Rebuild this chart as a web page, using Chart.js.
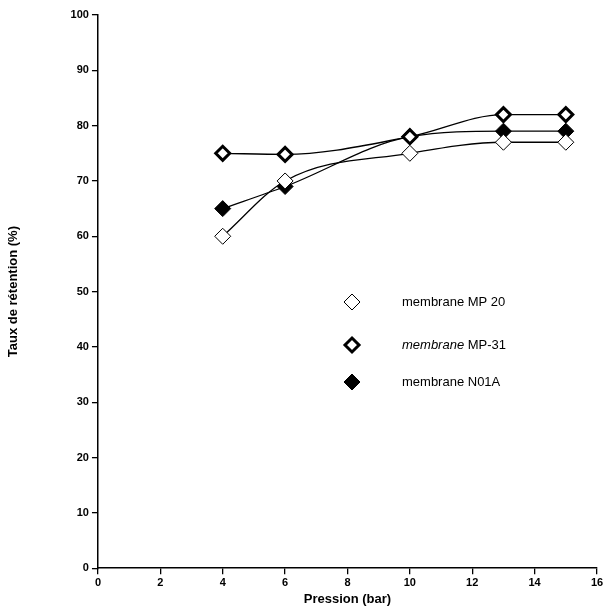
<!DOCTYPE html>
<html><head><meta charset="utf-8">
<script src="https://cdn.jsdelivr.net/npm/chart.js@4/dist/chart.umd.min.js"></script>
<style>html,body{margin:0;padding:0;background:#fff}#w{width:607px;height:607px}</style>
</head><body><div id="w"><canvas id="c"></canvas></div>
<script>
const pressures=[4,6,10,13,15];
const mp20=[60,70,75,77,77];
const mp31=[75,74.8,78,82,82];
const n01a=[65,69,78,79,79];
const xTicks=[0,2,4,6,8,10,12,14,16];
const yTicks=[0,10,20,30,40,50,60,70,80,90,100];
const labels=['membrane MP 20','membrane MP-31','membrane N01A'];
const pts=a=>pressures.map((x,i)=>({x,y:a[i]}));
const F='Liberation Sans, Arial, sans-serif';
const mk=(lab,d,bg,bw,r)=>({label:lab,data:pts(d),borderColor:'#000',borderWidth:1.3,pointBackgroundColor:bg,pointBorderColor:'#000',pointBorderWidth:bw,pointStyle:'rectRot',pointRadius:r,cubicInterpolationMode:'monotone',fill:false});
const legendPlugin={id:'lg',afterDraw(ch){const c=ch.ctx;const items=[['#fff',1,8],['#fff',3,7],['#000',1,8]];const ys=[302,345,382];
items.forEach((it,i)=>{c.save();c.beginPath();const x=352,y=ys[i],r=it[2];c.moveTo(x,y-r);c.lineTo(x+r,y);c.lineTo(x,y+r);c.lineTo(x-r,y);c.closePath();c.fillStyle=it[0];c.fill();c.lineWidth=it[1];c.strokeStyle='#000';c.stroke();
c.fillStyle='#000';c.font=(i==1?'italic ':'')+'13px '+F;c.textBaseline='middle';
if(i==1){c.fillText('membrane',402,y);c.font='13px '+F;c.fillText(' MP-31',402+c.measureText('membrane').width,y);}else c.fillText(labels[i],402,y);c.restore();});}};
const grid={display:true,drawOnChartArea:false,drawTicks:true,tickLength:6,color:'#000',lineWidth:1.3};
new Chart(document.getElementById('c'),{type:'line',data:{datasets:[mk(labels[0],mp20,'#fff',1,8),mk(labels[1],mp31,'#fff',3,7),mk(labels[2],n01a,'#000',1,8)]},
options:{animation:false,responsive:true,maintainAspectRatio:false,layout:{padding:{top:15,right:8,left:6,bottom:0}},
plugins:{legend:{display:false},tooltip:{enabled:false}},
scales:{x:{type:'linear',min:0,max:16,afterBuildTicks:s=>{s.ticks=xTicks.map(v=>({value:v}))},grid,border:{color:'#000',width:1.5},ticks:{color:'#000',padding:2,font:{family:F,size:11,weight:'bold'}},title:{display:true,text:'Pression (bar)',color:'#000',font:{family:F,size:13,weight:'bold'},padding:{top:0,bottom:0}}},
y:{min:0,max:100,afterBuildTicks:s=>{s.ticks=yTicks.map(v=>({value:v}))},grid,border:{color:'#000',width:1.5},ticks:{color:'#000',font:{family:F,size:11,weight:'bold'}},title:{display:true,text:'Taux de rétention (%)',color:'#000',font:{family:F,size:13,weight:'bold'},padding:{top:0,bottom:46}}}}},
plugins:[legendPlugin]});
</script></body></html>
